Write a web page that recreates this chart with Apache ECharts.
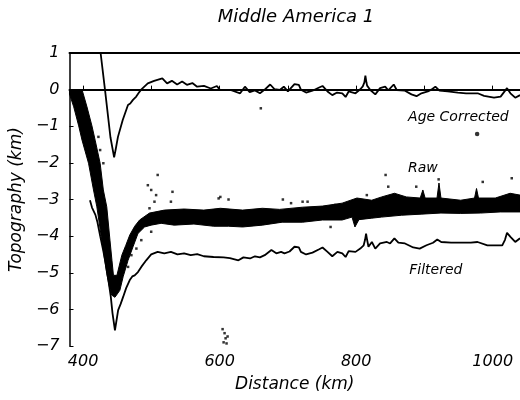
<!DOCTYPE html>
<html>
<head>
<meta charset="utf-8">
<title>Middle America 1</title>
<script src="https://cdn.jsdelivr.net/npm/echarts@6.0.0/dist/echarts.min.js"></script>
<style>
  html, body { margin: 0; padding: 0; background: #fff; }
  #chart { width: 520px; height: 400px; }
</style>
</head>
<body>
<div id="chart"></div>
<script>
// Profile across the Middle America trench: distance (km) vs topography (km)

// Age-corrected topography
const ageDist = [425.6, 432, 440, 445.4, 448, 451, 458, 465.7, 469, 473, 477.8, 481, 485, 494.7, 504, 516, 523, 530, 537.7, 545, 552, 560, 567, 577, 587, 596, 600, 616, 630, 637, 644, 651.7, 659, 666, 674, 680.6, 688, 694, 700, 709.6, 716, 719, 726.6, 736, 745, 750.7, 758, 765, 772, 779.7, 784.5, 789, 799, 806, 809.7, 812, 813.5, 815, 816, 820.7, 823, 828, 835, 842.5, 847, 855, 859.4, 871.5, 881, 888.4, 895.6, 905, 910, 916, 922, 934, 949, 961, 968, 978, 987.4, 1001.9, 1011.6, 1021, 1026, 1033, 1040];
const ageTopo = [1.0, 0, -1.3, -1.85, -1.6, -1.29, -0.83, -0.42, -0.38, -0.28, -0.19, -0.1, 0, 0.17, 0.24, 0.31, 0.17, 0.24, 0.14, 0.22, 0.13, 0.18, 0.08, 0.1, 0.03, 0.1, 0, -0.01, -0.1, 0.08, -0.07, -0.02, -0.1, 0, 0.14, 0.01, -0.01, 0.08, -0.05, 0.15, 0.13, 0, -0.08, -0.03, 0.05, 0.1, -0.05, -0.15, -0.08, -0.1, -0.2, -0.05, -0.1, 0.01, 0.09, 0.2, 0.38, 0.2, 0.11, -0.01, -0.05, -0.13, 0.04, 0.08, -0.02, 0.14, -0.01, -0.03, -0.13, -0.18, -0.1, -0.05, 0, 0.08, -0.03, -0.05, -0.08, -0.1, -0.1, -0.1, -0.17, -0.22, -0.19, 0.04, -0.1, -0.22, -0.15];

// Filtered topography
const filtDist = [410, 413, 415, 418, 421, 425, 429, 433, 437, 440.5, 443, 446.6, 451.3, 455, 458.6, 463, 468.3, 472, 475.5, 480.3, 485.2, 492.4, 499.7, 509.2, 518.9, 528.6, 538.2, 547.9, 557.6, 567.1, 576.8, 591, 605.8, 615, 627.5, 634.8, 644.5, 651.7, 659, 666, 675.8, 683, 690, 695, 702.4, 709.6, 716, 719, 726.6, 736, 745.8, 750.7, 758, 765, 772.5, 779.7, 784.5, 789, 799, 806, 811, 813, 814.5, 816, 818, 823, 828, 835, 845, 849.7, 856, 861.8, 871.5, 883.6, 893, 903, 912.6, 918.8, 924.6, 939, 953.6, 968, 977.8, 992.2, 1014, 1018, 1021, 1026, 1033, 1040];
const filtTopo = [-3.02, -3.22, -3.26, -3.42, -3.62, -4.0, -4.35, -4.75, -5.2, -5.65, -6.1, -6.57, -6.02, -5.85, -5.66, -5.42, -5.2, -5.1, -5.07, -4.98, -4.84, -4.66, -4.5, -4.43, -4.47, -4.43, -4.5, -4.47, -4.52, -4.49, -4.55, -4.57, -4.58, -4.6, -4.66, -4.58, -4.61, -4.55, -4.58, -4.52, -4.38, -4.47, -4.43, -4.47, -4.42, -4.29, -4.31, -4.43, -4.5, -4.45, -4.36, -4.31, -4.43, -4.55, -4.43, -4.47, -4.57, -4.41, -4.43, -4.34, -4.25, -4.1, -3.93, -4.1, -4.29, -4.16, -4.34, -4.2, -4.16, -4.2, -4.06, -4.18, -4.2, -4.31, -4.34, -4.25, -4.18, -4.09, -4.16, -4.18, -4.18, -4.18, -4.16, -4.25, -4.25, -4.1, -3.91, -4.02, -4.16, -4.06];

// Raw soundings: upper and lower envelope of the dense band
const rawUpperDist = [380, 398.4, 405.6, 412.9, 417.6, 424.9, 429.6, 434.6, 439.3, 442.2, 444.4, 449.5, 456.7, 462.5, 468.3, 475.5, 482.7, 497.2, 518.9, 547.9, 576.8, 601, 633.7, 662.6, 687.8, 721.5, 750.5, 779.4, 801.1, 822.8, 837.3, 856.1, 873.5, 893.8, 897.7, 901, 918.4, 921.3, 924.2, 953.1, 973.4, 976.3, 979.2, 1003.8, 1025.5, 1040];
const rawUpperTopo = [0, 0, -0.47, -0.99, -1.38, -2.01, -2.74, -3.2, -4.11, -4.66, -5.07, -5.07, -4.52, -4.25, -3.97, -3.73, -3.56, -3.37, -3.29, -3.26, -3.29, -3.24, -3.29, -3.24, -3.27, -3.21, -3.18, -3.1, -2.96, -3.02, -2.93, -2.83, -2.93, -2.96, -2.74, -2.96, -2.96, -2.55, -2.96, -3.02, -2.96, -2.7, -2.96, -2.96, -2.83, -2.88];
const rawLowerDist = [380, 386.2, 393.5, 398.4, 407.9, 415.2, 420.1, 427.3, 434.6, 437.9, 441.8, 446.6, 453.8, 458.6, 465.8, 473.1, 480.3, 490, 499.7, 514.2, 533.4, 562.3, 591.3, 613, 633.7, 662.6, 691.5, 721.5, 750.5, 779.4, 793.9, 798.2, 804, 822.8, 837.3, 866.3, 895.2, 924.2, 953.1, 982.1, 1011, 1040];
const rawLowerTopo = [-0.12, -0.47, -0.99, -1.38, -2.01, -2.74, -3.2, -4.11, -5.02, -5.34, -5.61, -5.67, -5.48, -5.11, -4.66, -4.29, -3.93, -3.75, -3.7, -3.65, -3.7, -3.67, -3.73, -3.73, -3.75, -3.7, -3.62, -3.62, -3.56, -3.56, -3.48, -3.75, -3.55, -3.51, -3.48, -3.43, -3.4, -3.37, -3.38, -3.37, -3.34, -3.34];

// Raw soundings lying off the main band
const rawDotDist = [422.4, 424.9, 429.6, 458.6, 465.8, 470.7, 478, 485.2, 494.8, 497.2, 499.7, 499.7, 504.5, 506.9, 509.2, 528.6, 530.9, 598.5, 601, 613, 660.3, 692.6, 704.6, 721.5, 728.8, 762.5, 769.3, 793.9, 815.6, 843.1, 847, 888, 920.8, 985.4, 1027.9, 604.3, 605.8, 607.2, 608.7, 610.1, 611.6];
const rawDotTopo = [-1.29, -1.65, -2.01, -4.93, -4.84, -4.52, -4.34, -4.11, -2.61, -3.24, -2.74, -3.88, -3.06, -2.88, -2.33, -3.06, -2.79, -2.97, -2.93, -3.0, -0.51, -3.0, -3.1, -3.06, -3.06, -3.75, -3.15, -3.11, -2.88, -2.33, -2.65, -2.65, -2.45, -2.52, -2.42, -6.54, -6.9, -6.65, -6.79, -6.93, -6.74];
const isolatedDist = [977.2];
const isolatedTopo = [-1.21];

const xTicks = [400, 500, 600, 700, 800, 900, 1000];
const xLabels = [400, 600, 800, 1000];

const FONT = 'DejaVu Sans';
const pairs = (xs, ys) => xs.map((x, i) => [x, ys[i]]);

const chart = echarts.init(document.getElementById('chart'), null, { renderer: 'canvas' });

const textStyle = { fontFamily: FONT, fontStyle: 'italic', color: '#000' };

chart.setOption({
  animation: false,
  backgroundColor: '#fff',
  title: {
    text: 'Middle America 1',
    left: 291, top: 3, textAlign: 'center',
    textStyle: Object.assign({ fontSize: 18, fontWeight: 'normal' }, textStyle)
  },
  grid: { left: 64, top: 53, right: 0, bottom: 54 },
  xAxis: [{
    type: 'value', min: 380, max: 1040,
    name: 'Distance (km)', nameLocation: 'middle', nameGap: 30,
    nameTextStyle: Object.assign({ fontSize: 17 }, textStyle),
    axisLine: { show: true, lineStyle: { color: '#000', width: 2 } },
    axisTick: { show: true, inside: true, length: 4, customValues: xTicks, lineStyle: { color: '#000', width: 1 } },
    axisLabel: Object.assign({ customValues: xLabels, fontSize: 16, margin: 8, formatter: v => String(v) }, textStyle),
    splitLine: { show: false }
  }, {
    type: 'value', min: 380, max: 1040, position: 'top',
    axisLine: { show: true, onZero: false, lineStyle: { color: '#000', width: 2 } },
    axisTick: { show: false }, axisLabel: { show: false }, splitLine: { show: false }
  }],
  yAxis: {
    type: 'value', min: -7, max: 1, interval: 1,
    name: 'Topography (km)', nameLocation: 'middle', nameGap: 38,
    nameTextStyle: Object.assign({ fontSize: 17 }, textStyle),
    axisLine: { show: true, lineStyle: { color: '#000', width: 1.5 } },
    axisTick: { show: true, inside: true, length: 4, lineStyle: { color: '#000', width: 1 } },
    axisLabel: Object.assign({
      fontSize: 16, margin: 10,
      formatter: v => (v < 0 ? '\u2212' + Math.abs(v) : String(v))
    }, textStyle),
    splitLine: { show: false }
  },
  series: [
    {
      // dense band of raw soundings
      type: 'custom',
      name: 'Raw band',
      data: [[rawUpperDist[0], rawUpperTopo[0]]],
      encode: { x: 0, y: 1 },
      renderItem: function (params, api) {
        const pts = [];
        for (let i = 0; i < rawUpperDist.length; i++) pts.push(api.coord([rawUpperDist[i], rawUpperTopo[i]]));
        for (let i = rawLowerDist.length - 1; i >= 0; i--) pts.push(api.coord([rawLowerDist[i], rawLowerTopo[i]]));
        return {
          type: 'polygon',
          shape: { points: pts },
          style: { fill: '#000', stroke: '#000', lineWidth: 1 }
        };
      },
      z: 3
    },
    {
      type: 'scatter',
      name: 'Raw',
      data: pairs(rawDotDist, rawDotTopo),
      symbol: 'rect', symbolSize: 2.5,
      itemStyle: { color: '#000' },
      markPoint: {
        symbol: 'circle', symbolSize: 0,
        data: [{ coord: [876, -2.14], value: 'Raw' }],
        label: Object.assign({ show: true, position: 'right', distance: 0, fontSize: 14, formatter: 'Raw' }, textStyle)
      },
      z: 3
    },
    {
      type: 'scatter',
      name: 'Isolated',
      data: pairs(isolatedDist, isolatedTopo),
      symbol: 'circle', symbolSize: 4.5,
      itemStyle: { color: '#000' },
      z: 3
    },
    {
      type: 'line',
      name: 'Age Corrected',
      data: pairs(ageDist, ageTopo),
      showSymbol: false, symbol: 'none',
      lineStyle: { color: '#000', width: 1.8 },
      markLine: {
        silent: true, symbol: 'none', label: { show: false },
        lineStyle: { color: '#000', width: 1, type: 'solid' },
        data: [{ yAxis: 0 }]
      },
      markPoint: {
        symbol: 'circle', symbolSize: 0,
        data: [{ coord: [876, -0.76], value: 'Age Corrected' }],
        label: Object.assign({ show: true, position: 'right', distance: 0, fontSize: 14, formatter: 'Age Corrected' }, textStyle)
      },
      z: 4
    },
    {
      type: 'line',
      name: 'Filtered',
      data: pairs(filtDist, filtTopo),
      showSymbol: false, symbol: 'none',
      lineStyle: { color: '#000', width: 1.8 },
      markPoint: {
        symbol: 'circle', symbolSize: 0,
        data: [{ coord: [877.8, -4.93], value: 'Filtered' }],
        label: Object.assign({ show: true, position: 'right', distance: 0, fontSize: 14, formatter: 'Filtered' }, textStyle)
      },
      z: 4
    }
  ]
});
</script>
</body>
</html>
